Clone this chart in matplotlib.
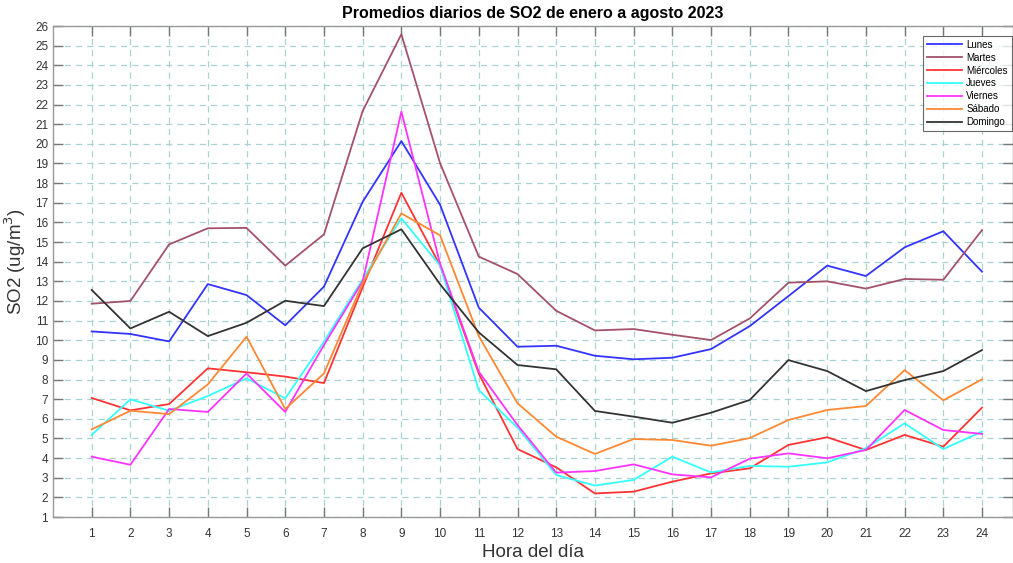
import numpy as np
import matplotlib.pyplot as plt

# Promedios horarios de SO2 por dia de la semana (ug/m3)
horas = np.arange(1, 25)

lunes = [10.45, 10.32, 9.94, 12.86, 12.30, 10.76, 12.73, 17.05, 20.14, 16.9, 11.66, 9.67,
         9.72, 9.21, 9.03, 9.11, 9.55, 10.72, 12.25, 13.80, 13.27, 14.73, 15.55, 13.49]
martes = [11.86, 12.0, 14.88, 15.70, 15.72, 13.80, 15.39, 21.67, 25.58, 19.01, 14.26, 13.37,
          11.50, 10.50, 10.57, 10.28, 10.01, 11.11, 12.93, 13.0, 12.63, 13.12, 13.08, 15.61]
miercoles = [7.06, 6.43, 6.75, 8.57, 8.37, 8.15, 7.82, 12.7, 17.51, 13.8, 8.3, 4.46,
             3.53, 2.20, 2.29, 2.8, 3.22, 3.48, 4.67, 5.06, 4.41, 5.18, 4.58, 6.57]
jueves = [5.18, 6.99, 6.41, 7.16, 8.06, 7.04, 9.93, 13.1, 16.21, 13.8, 7.46, 5.55,
          3.14, 2.60, 2.89, 4.07, 3.27, 3.60, 3.56, 3.78, 4.50, 5.77, 4.46, 5.35]
viernes = [4.07, 3.66, 6.5, 6.35, 8.31, 6.35, 9.76, 13.0, 21.64, 13.9, 8.40, 5.68,
           3.26, 3.34, 3.68, 3.17, 3.02, 3.97, 4.24, 3.99, 4.41, 6.45, 5.43, 5.23]
sabado = [5.46, 6.41, 6.24, 7.75, 10.18, 6.5, 8.31, 12.9, 16.46, 15.34, 10.21, 6.79,
          5.09, 4.21, 4.97, 4.92, 4.63, 5.02, 5.94, 6.45, 6.65, 8.48, 6.94, 8.01]
domingo = [12.56, 10.60, 11.45, 10.21, 10.89, 12.01, 11.74, 14.68, 15.65, 12.85, 10.4, 8.74,
           8.52, 6.40, 6.11, 5.80, 6.31, 6.96, 8.99, 8.43, 7.41, 7.97, 8.43, 9.50]

dias = ['Lunes', 'Martes', 'Miércoles', 'Jueves', 'Viernes', 'Sábado', 'Domingo']
series = [lunes, martes, miercoles, jueves, viernes, sabado, domingo]
colores = ['#3333ff', '#a3526b', '#ff3333', '#33ffff', '#ff33ff', '#ff8833', '#333333']

plt.rcParams['font.family'] = ['Liberation Sans', 'DejaVu Sans']

fig = plt.figure(figsize=(10.13, 5.63), dpi=100)
ax = fig.add_axes([0.0523, 0.0817, 0.9477, 0.8721])

for datos, nombre, c in zip(series, dias, colores):
    ax.plot(horas, datos, color=c, lw=1.3, label=nombre)

ax.set_xlim(0, 24.8)
ax.set_ylim(1, 26)
ax.set_xticks(horas)
ax.set_yticks(np.arange(1, 27))
ax.grid(True, linestyle=(0, (5, 4)), color='#a9d3d3', lw=0.9)
ax.set_axisbelow(True)

ax.tick_params(axis='both', direction='in', length=7, width=1, colors='#777777',
               labelcolor='#333333', labelsize=8.5, top=True, right=True)
ax.tick_params(axis='x', pad=8)
for s in ax.spines.values():
    s.set_color('#999999')
    s.set_linewidth(1)

ax.set_title('Promedios diarios de SO2 de enero a agosto 2023', fontsize=11.5,
             fontweight='bold', pad=6)
ax.set_xlabel('Hora del día', fontsize=13.5, color='#333333')
ax.xaxis.set_label_coords(0.5, -0.056, transform=ax.transAxes)
ax.xaxis.label.set_verticalalignment('top')
ax.set_ylabel('SO2 (ug/m$^3$)', fontsize=13.5, color='#333333')
ax.yaxis.set_label_coords(-0.026, 0.52)

leg = ax.legend(loc='upper right', bbox_to_anchor=(0.9985, 0.98), fontsize=7,
                frameon=True, fancybox=False, borderpad=0.4, labelspacing=0.3,
                handlelength=3.6, handletextpad=0.4, borderaxespad=0)
leg.get_frame().set_edgecolor('#444444')
leg.get_frame().set_linewidth(0.8)

fig.savefig('out.png', dpi=100)
